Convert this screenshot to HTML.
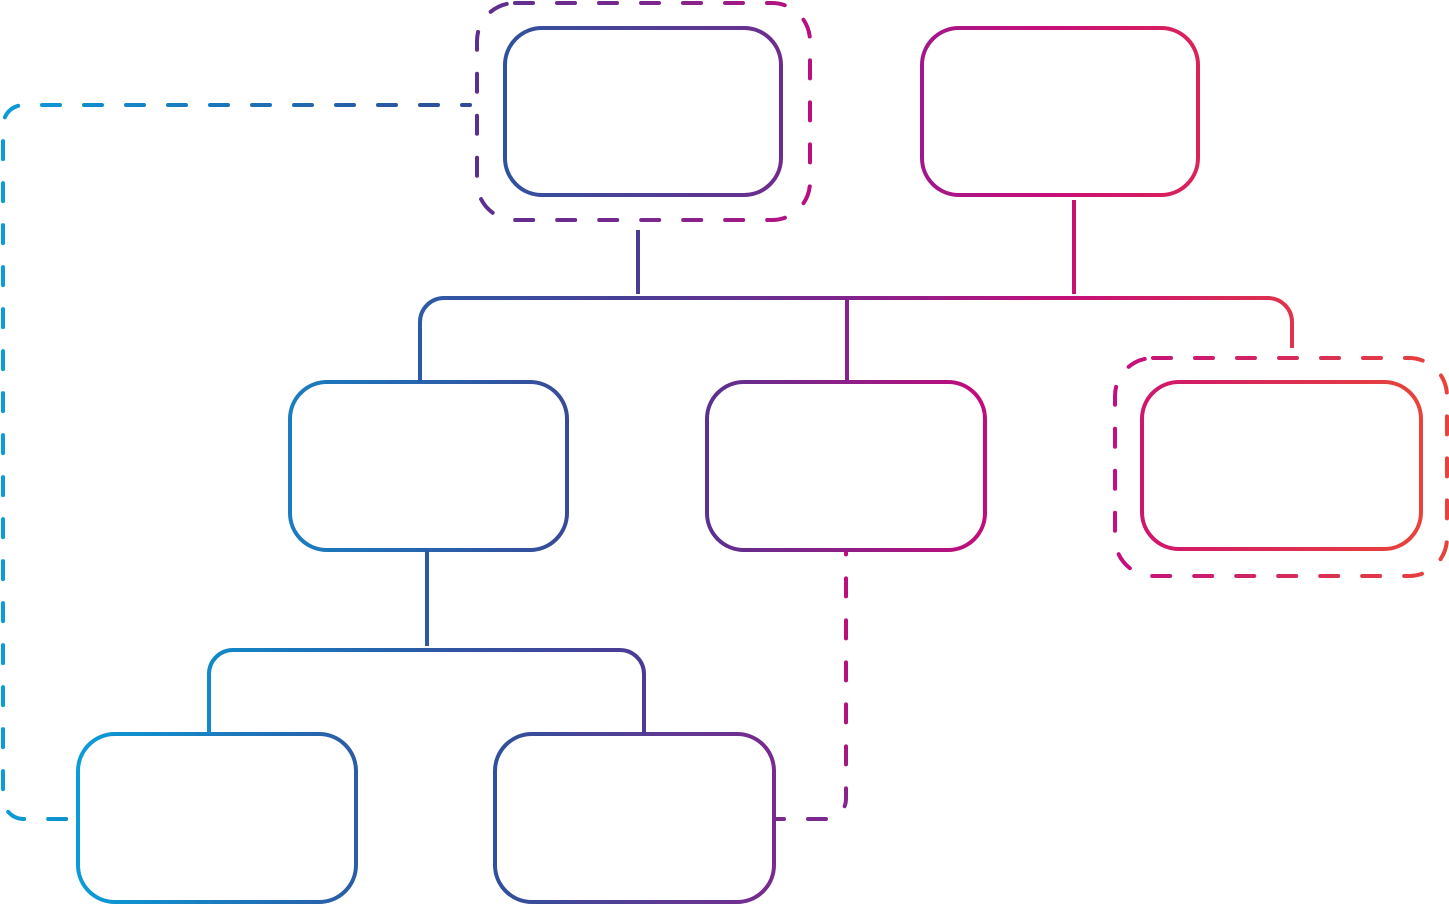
<!DOCTYPE html>
<html><head><meta charset="utf-8"><style>
html,body{margin:0;padding:0;background:#fff;}
svg{display:block;}
</style></head><body>
<svg width="1449" height="905" viewBox="0 0 1449 905" xmlns="http://www.w3.org/2000/svg">
<defs>
<linearGradient id="gLeft" gradientUnits="userSpaceOnUse" x1="0" y1="0" x2="470" y2="0"><stop offset="0" stop-color="#0a9cd8"/><stop offset="1" stop-color="#2f4b99"/></linearGradient>
<linearGradient id="gTLo" gradientUnits="userSpaceOnUse" x1="477" y1="0" x2="810" y2="0"><stop offset="0" stop-color="#5c2f8f"/><stop offset="0.5" stop-color="#79298d"/><stop offset="1" stop-color="#bb0f7f"/></linearGradient>
<linearGradient id="gTLi" gradientUnits="userSpaceOnUse" x1="505" y1="0" x2="781" y2="0"><stop offset="0" stop-color="#2f529e"/><stop offset="1" stop-color="#6e2c8d"/></linearGradient>
<linearGradient id="gTR" gradientUnits="userSpaceOnUse" x1="922" y1="0" x2="1198" y2="0"><stop offset="0" stop-color="#a2178a"/><stop offset="0.45" stop-color="#c60f7a"/><stop offset="1" stop-color="#dc2357"/></linearGradient>
<linearGradient id="gBus" gradientUnits="userSpaceOnUse" x1="420" y1="0" x2="1292" y2="0"><stop offset="0" stop-color="#2c5ba6"/><stop offset="0.25" stop-color="#4a3d95"/><stop offset="0.49" stop-color="#81238e"/><stop offset="0.75" stop-color="#c60f78"/><stop offset="1" stop-color="#e0344b"/></linearGradient>
<linearGradient id="gML" gradientUnits="userSpaceOnUse" x1="290" y1="0" x2="567" y2="0"><stop offset="0" stop-color="#1a7dc1"/><stop offset="1" stop-color="#374a98"/></linearGradient>
<linearGradient id="gMM" gradientUnits="userSpaceOnUse" x1="707" y1="0" x2="985" y2="0"><stop offset="0" stop-color="#5a3190"/><stop offset="1" stop-color="#c30c7c"/></linearGradient>
<linearGradient id="gRo" gradientUnits="userSpaceOnUse" x1="1115" y1="0" x2="1447" y2="0"><stop offset="0" stop-color="#c20e80"/><stop offset="1" stop-color="#e8433a"/></linearGradient>
<linearGradient id="gRi" gradientUnits="userSpaceOnUse" x1="1142" y1="0" x2="1421" y2="0"><stop offset="0" stop-color="#cf166e"/><stop offset="1" stop-color="#e8433a"/></linearGradient>
<linearGradient id="gBus2" gradientUnits="userSpaceOnUse" x1="209" y1="0" x2="644" y2="0"><stop offset="0" stop-color="#1189ca"/><stop offset="0.5" stop-color="#2c5aa5"/><stop offset="1" stop-color="#4d3a94"/></linearGradient>
<linearGradient id="gBL" gradientUnits="userSpaceOnUse" x1="78" y1="0" x2="356" y2="0"><stop offset="0" stop-color="#0a9cd8"/><stop offset="1" stop-color="#2b5ca6"/></linearGradient>
<linearGradient id="gBM" gradientUnits="userSpaceOnUse" x1="495" y1="0" x2="774" y2="0"><stop offset="0" stop-color="#2f519d"/><stop offset="1" stop-color="#7a2a8e"/></linearGradient>
<linearGradient id="gBMd" gradientUnits="userSpaceOnUse" x1="0" y1="819" x2="0" y2="553"><stop offset="0" stop-color="#7a2a8e"/><stop offset="0.3" stop-color="#b0127f"/><stop offset="1" stop-color="#c00c7c"/></linearGradient>
</defs>

<g fill="none" stroke-width="4" stroke-linecap="butt">
  <rect x="505" y="28" width="276" height="167" rx="37" stroke="url(#gTLi)"/>
  <rect x="922" y="28" width="276" height="167" rx="37" stroke="url(#gTR)"/>
  <rect x="290" y="382" width="277" height="168" rx="37" stroke="url(#gML)"/>
  <rect x="707" y="382" width="278" height="168" rx="37" stroke="url(#gMM)"/>
  <rect x="1142" y="382" width="279" height="167" rx="37" stroke="url(#gRi)"/>
  <rect x="78" y="734" width="278" height="168" rx="37" stroke="url(#gBL)"/>
  <rect x="495" y="734" width="279" height="168" rx="37" stroke="url(#gBM)"/>

  <line x1="638" y1="230" x2="638" y2="294" stroke="#4a3c94"/>
  <line x1="1074" y1="200" x2="1074" y2="294" stroke="#c80f72"/>
  <path d="M420 382 V322 A24 24 0 0 1 444 298 H1268 A24 24 0 0 1 1292 322 V348" stroke="url(#gBus)"/>
  <line x1="847" y1="298" x2="847" y2="382" stroke="#84228e"/>
  <line x1="427" y1="550" x2="427" y2="646" stroke="#2d58a4"/>
  <path d="M209 734 V674 A24 24 0 0 1 233 650 H620 A24 24 0 0 1 644 674 V734" stroke="url(#gBus2)"/>
</g>

<g fill="none" stroke-width="4" stroke-linecap="round" stroke-dasharray="18 24">
  <rect x="477" y="3" width="333" height="217" rx="38" stroke="url(#gTLo)"/>
  <rect x="1115" y="358" width="332" height="218" rx="38" stroke="url(#gRo)"/>
  <path d="M470 105 H24 A21 21 0 0 0 3 126 V798 A21 21 0 0 0 24 819 H74" stroke="url(#gLeft)" stroke-dashoffset="10"/>
  <path d="M776 819 H826 A20 20 0 0 0 846 799 V553" stroke="url(#gBMd)" stroke-dashoffset="10"/>
</g>
</svg>
</body></html>
